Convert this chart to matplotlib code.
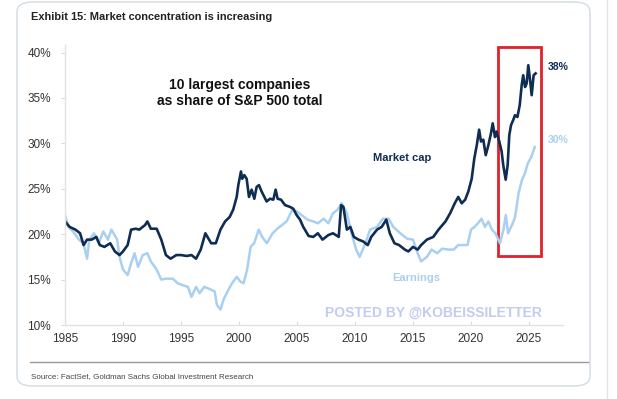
import matplotlib
matplotlib.use("Agg")
import matplotlib.pyplot as plt
from matplotlib.patches import FancyBboxPatch, Rectangle
from matplotlib.lines import Line2D

# ---- data (share of S&P 500 total, %) ----
mcap_year = [1985.0, 1985.4, 1985.9, 1986.3, 1986.6, 1986.9, 1987.3, 1987.7, 1988.0, 1988.4,
             1988.9, 1989.3, 1989.7, 1990.0, 1990.4, 1990.7, 1991.1, 1991.4, 1991.9, 1992.1,
             1992.4, 1992.9, 1993.3, 1993.7, 1994.1, 1994.6, 1995.0, 1995.5, 1995.9, 1996.3,
             1996.7, 1997.1, 1997.6, 1998.0, 1998.4, 1998.8, 1999.2, 1999.5, 1999.8, 1999.94,
             2000.17, 2000.28, 2000.46, 2000.66, 2000.86, 2001.09, 2001.32, 2001.52, 2001.72, 2001.95,
             2002.18, 2002.38, 2002.67, 2002.96, 2003.16, 2003.33, 2003.62, 2003.97, 2004.4, 2004.68,
             2004.97, 2005.26, 2005.54, 2006.0, 2006.4, 2006.8,
             2007.2, 2007.7, 2008.1, 2008.6, 2008.8, 2009.0, 2009.3, 2009.6, 2009.9, 2010.3,
             2010.7, 2011.1, 2011.4, 2011.9, 2012.3, 2012.7, 2013.0, 2013.4, 2013.8, 2014.3,
             2014.6, 2015.0, 2015.4, 2015.7, 2016.2, 2016.75, 2017.2, 2017.8, 2018.2, 2018.6,
             2018.9, 2019.2, 2019.5, 2019.77, 2020.06, 2020.28, 2020.5, 2020.7, 2020.86, 2021.06,
             2021.27, 2021.5, 2021.72, 2021.87, 2022.07, 2022.2, 2022.44, 2022.64, 2022.78, 2022.99,
             2023.16, 2023.3, 2023.45, 2023.65, 2023.79, 2024.0, 2024.2, 2024.37, 2024.5, 2024.66,
             2024.8, 2024.94, 2025.11, 2025.23, 2025.4, 2025.57]
mcap_val = [21.4, 20.8, 20.5, 20.1, 18.8, 19.4, 19.4, 19.7, 18.8, 18.6,
            19.0, 18.1, 17.7, 18.1, 18.8, 20.5, 20.6, 20.5, 21.0, 21.4,
            20.6, 20.6, 19.4, 17.7, 17.3, 17.7, 17.7, 17.6, 17.7, 17.3,
            18.3, 20.1, 19.0, 19.0, 20.5, 21.4, 21.9, 22.7, 24.1, 25.4,
            26.9, 26.1, 26.5, 26.1, 24.1, 24.9, 23.9, 25.2, 25.4, 24.7,
            24.1, 23.6, 23.9, 23.8, 24.9, 23.9, 23.8, 23.2, 23.0, 22.8,
            22.1, 21.6, 20.8, 19.8, 19.7, 20.1,
            19.4, 19.9, 20.1, 19.7, 23.2, 23.0, 20.5, 20.8, 19.7, 19.4,
            19.2, 18.8, 19.7, 20.5, 20.8, 21.6, 20.1, 19.0, 18.8, 18.3,
            18.1, 18.6, 18.3, 18.8, 19.4, 19.7, 20.5, 21.4, 22.3, 23.4,
            24.1, 23.4, 23.8, 24.7, 26.1, 28.3, 29.8, 31.5, 30.2, 30.4,
            28.7, 29.8, 31.1, 32.2, 30.7, 31.3, 30.2, 29.1, 27.6, 26.0,
            27.6, 30.9, 32.0, 32.6, 33.1, 32.9, 34.2, 36.4, 37.5, 36.2,
            36.6, 38.6, 36.8, 35.3, 37.5, 37.7]

earn_year = [1985.0, 1985.3, 1985.7, 1986.2, 1986.6, 1986.9, 1987.1, 1987.5, 1987.9, 1988.3,
             1988.7, 1989.0, 1989.5, 1989.7, 1990.0, 1990.4, 1990.7, 1991.0, 1991.3, 1991.7,
             1992.1, 1992.4, 1992.9, 1993.3, 1993.7, 1994.3, 1994.7, 1995.1, 1995.6, 1995.9,
             1996.3, 1996.6, 1997.0, 1997.4, 1997.9, 1998.1, 1998.4, 1998.7, 1999.1, 1999.4,
             1999.8, 2000.1, 2000.4, 2000.7, 2001.0, 2001.3, 2001.7, 2002.0, 2002.4, 2002.9,
             2003.3, 2003.7, 2004.1, 2004.6, 2005.0, 2005.4, 2005.9, 2006.4, 2006.8, 2007.3,
             2007.7, 2008.1, 2008.5, 2008.85, 2009.3, 2009.7, 2010.1, 2010.4, 2010.9, 2011.3,
             2011.9, 2012.4, 2012.9, 2013.3, 2013.9, 2014.5, 2015.0, 2015.4, 2015.7, 2016.2,
             2016.6, 2017.1, 2017.5, 2018.1, 2018.5, 2018.9, 2019.3, 2019.7, 2020.0, 2020.3,
             2020.6, 2020.9, 2021.2, 2021.5, 2021.8, 2022.1, 2022.5, 2022.8, 2023.0, 2023.2,
             2023.6, 2023.8, 2024.1, 2024.4, 2024.65, 2024.9, 2025.2, 2025.5]
earn_val = [22.1, 20.8, 20.3, 19.4, 19.0, 17.3, 19.4, 20.1, 19.0, 20.3,
            19.4, 20.5, 19.4, 17.5, 16.1, 15.5, 16.8, 17.9, 16.4, 17.7,
            17.9, 17.0, 16.1, 15.0, 15.1, 15.1, 14.6, 14.4, 14.2, 13.1,
            14.2, 13.5, 14.2, 14.0, 13.7, 12.2, 11.7, 12.9, 13.9, 14.6,
            15.3, 14.8, 14.6, 16.1, 18.6, 19.0, 20.5, 19.7, 19.0, 20.1,
            20.6, 21.0, 21.4, 22.7, 22.5, 22.1, 21.6, 21.4, 21.2, 21.7,
            21.2, 22.3, 22.7, 23.4, 22.3, 20.1, 18.3, 17.5, 19.0, 20.5,
            20.8, 21.7, 21.7, 20.8, 20.1, 19.5, 19.4, 17.9, 17.0, 17.5,
            18.3, 17.9, 18.4, 18.3, 18.3, 18.8, 18.8, 18.8, 20.5, 20.8,
            21.2, 21.7, 20.8, 21.4, 20.5, 20.1, 19.0, 20.5, 22.1, 20.1,
            21.2, 21.9, 24.5, 26.0, 26.7, 27.8, 28.5, 29.6]

x_ticks = [1985, 1990, 1995, 2000, 2005, 2010, 2015, 2020, 2025]
y_ticks = [10, 15, 20, 25, 30, 35, 40]

NAVY = "#0f2d52"
LIGHT = "#a9d0f0"
TXT = "#333333"
W, H = 617, 399


def fx(px):
    return px / W


def fy(py):
    return 1 - py / H


plt.rcParams["font.family"] = ["Liberation Sans", "DejaVu Sans"]

fig = plt.figure(figsize=(W / 100, H / 100), dpi=100)
fig.patch.set_facecolor("white")

# card outline, separator lines (kept behind the axes)
card = FancyBboxPatch((fx(17), fy(386)), fx(590) - fx(17), fy(2) - fy(386),
                      boxstyle="round,pad=0,rounding_size=0.025",
                      transform=fig.transFigure, fc="none", ec="#d3dbe4", lw=1.0,
                      zorder=-5)
fig.patches.append(card)
fig.add_artist(Line2D([fx(30), fx(588)], [fy(362), fy(362)], transform=fig.transFigure,
                      color="#9a9a9a", lw=1.0))
fig.add_artist(Line2D([fx(607), fx(607)], [0, 1], transform=fig.transFigure,
                      color="#e4e4e4", lw=1.0))

fig.text(fx(31), fy(17), "Exhibit 15: Market concentration is increasing",
         fontweight="bold", fontsize=7.9, color="#222222", ha="left", va="center")
fig.text(fx(31), fy(377), "Source: FactSet, Goldman Sachs Global Investment Research",
         fontsize=5.8, color="#444444", ha="left", va="center")

# main axes: 1985 at x=65, 11.6 px/yr; 10% at y=325, 9.083 px/%
ax = fig.add_axes([fx(65), fy(325), fx(563) - fx(65), fy(45) - fy(325)])
ax.set_facecolor("none")
ax.set_xlim(1985, 1985 + (563 - 65) / 11.6)
ax.set_ylim(10, 10 + (325 - 45) / 9.083)

ax.plot(earn_year, earn_val, color=LIGHT, lw=1.8, solid_joinstyle="round")
ax.plot(mcap_year, mcap_val, color=NAVY, lw=1.9, solid_joinstyle="round")

ax.set_xticks(x_ticks)
ax.set_yticks(y_ticks)
ax.set_yticklabels([f"{v}%" for v in y_ticks])
ax.tick_params(axis="x", direction="in", length=3, color="#dcdcdc", labelsize=8.5,
               labelcolor=TXT, pad=6)
ax.tick_params(axis="y", direction="out", length=3, color="#dcdcdc", labelsize=8.5,
               labelcolor=TXT, pad=7)
for side in ["top", "right"]:
    ax.spines[side].set_visible(False)
for side in ["left", "bottom"]:
    ax.spines[side].set_color("#e2e2e2")
    ax.spines[side].set_linewidth(1.0)

# red highlight box
ax.add_patch(Rectangle((2022.33, 17.6), 2026.03 - 2022.33, 40.57 - 17.6,
                       fill=False, ec="#e0222c", lw=2.0, clip_on=False))

ax.text(2026.6, 38.4, "38%", color=NAVY, fontsize=7.5, fontweight="bold",
        ha="left", va="center", clip_on=False)
ax.text(2026.6, 30.4, "30%", color=LIGHT, fontsize=7.5, fontweight="bold",
        ha="left", va="center", clip_on=False)
ax.text(2000.1, 35.5, "10 largest companies\nas share of S&P 500 total",
        color="#111111", fontsize=10, fontweight="bold", ha="center", va="center",
        linespacing=1.2)
ax.text(2014.1, 28.4, "Market cap", color=NAVY, fontsize=8, fontweight="bold",
        ha="center", va="center")
ax.text(2015.3, 15.2, "Earnings", color=LIGHT, fontsize=8, fontweight="bold",
        ha="center", va="center")
ax.text(2016.8, 11.3, "POSTED BY @KOBEISSILETTER", color="#c3cbf0", fontsize=10,
        fontweight="bold", ha="center", va="center")

fig.savefig("out.png", dpi=100, facecolor="white")
